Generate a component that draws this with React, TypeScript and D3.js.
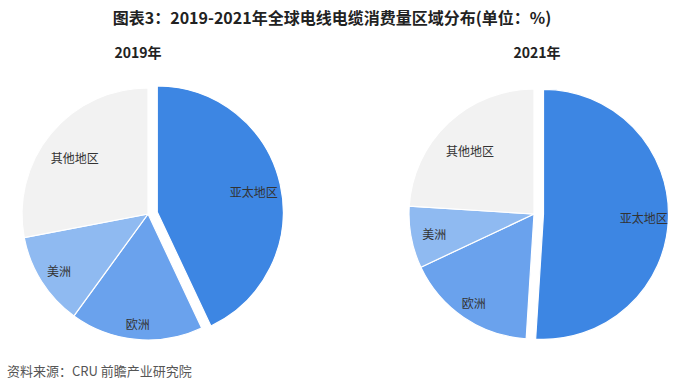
import React from "react";
import * as d3 from "d3";

const categories = ["亚太地区", "欧洲", "美洲", "其他地区"];
const years = ["2019年", "2021年"];
const values2019 = [43, 17, 12, 28];
const values2021 = [51, 17, 8, 24];
const colors = ["#3d86e3", "#6aa2ed", "#8fbaf1", "#f2f2f2"];

const W = 694;
const H = 392;

type PieProps = { cx: number; cy: number; r: number; values: number[]; title: string; titleX: number };

function Pie({ cx, cy, r, values, title, titleX }: PieProps) {
  const pie = d3.pie<number>().sort(null).startAngle(0).endAngle(2 * Math.PI).value((d) => d);
  const arcs = pie(values);
  const arc = d3.arc<d3.PieArcDatum<number>>().innerRadius(0).outerRadius(r);
  const explode = 9.5;
  return (
    <g>
      <text x={titleX} y={58} textAnchor="middle" fontSize={14} fontWeight="bold" fill="#222"
        fontFamily="'Noto Sans CJK SC', 'Noto Sans', sans-serif">{title}</text>
      <g transform={`translate(${cx},${cy})`}>
        {arcs.map((a, i) => {
          const mid = (a.startAngle + a.endAngle) / 2;
          const off = i === 0 ? explode : 0;
          const dx = Math.sin(mid) * off;
          const dy = -Math.cos(mid) * off;
          const c = Math.cos(mid);
          const k = 0.80 - 0.07 * c;
          const labelArc = d3.arc<d3.PieArcDatum<number>>().innerRadius(k * r).outerRadius(k * r);
          const [lx, ly0] = labelArc.centroid(a);
          const ly = ly0 + 6 * Math.max(0, c);
          return (
            <g key={i} transform={`translate(${dx},${dy})`}>
              <path d={arc(a) || ""} fill={colors[i]} stroke="#ffffff" strokeWidth={1.2} />
              <text x={lx} y={ly} textAnchor="middle" dominantBaseline="central" fontSize={12}
                fill="#333" fontFamily="'Noto Sans CJK SC', 'Noto Sans', sans-serif">{categories[i]}</text>
            </g>
          );
        })}
      </g>
    </g>
  );
}

export default function App() {
  return (
    <svg width={W} height={H} viewBox={`0 0 ${W} ${H}`} style={{ position: "absolute", left: 0, top: 0, background: "#fff" }}>
      <rect x={0} y={0} width={W} height={H} fill="#ffffff" />
      <text x={332} y={24} textAnchor="middle" fontSize={16} fontWeight="bold" fill="#222"
        fontFamily="'Noto Sans CJK SC', 'Noto Sans', sans-serif">图表3：2019-2021年全球电线电缆消费量区域分布(单位：%)</text>
      <Pie cx={148} cy={214} r={126} values={values2019} title={years[0]} titleX={138} />
      <Pie cx={534} cy={214} r={125} values={values2021} title={years[1]} titleX={537} />
      <text x={7} y={376} fontSize={13} fill="#555" fontFamily="'Noto Sans CJK SC', 'Noto Sans', sans-serif">资料来源：CRU 前瞻产业研究院</text>
    </svg>
  );
}
